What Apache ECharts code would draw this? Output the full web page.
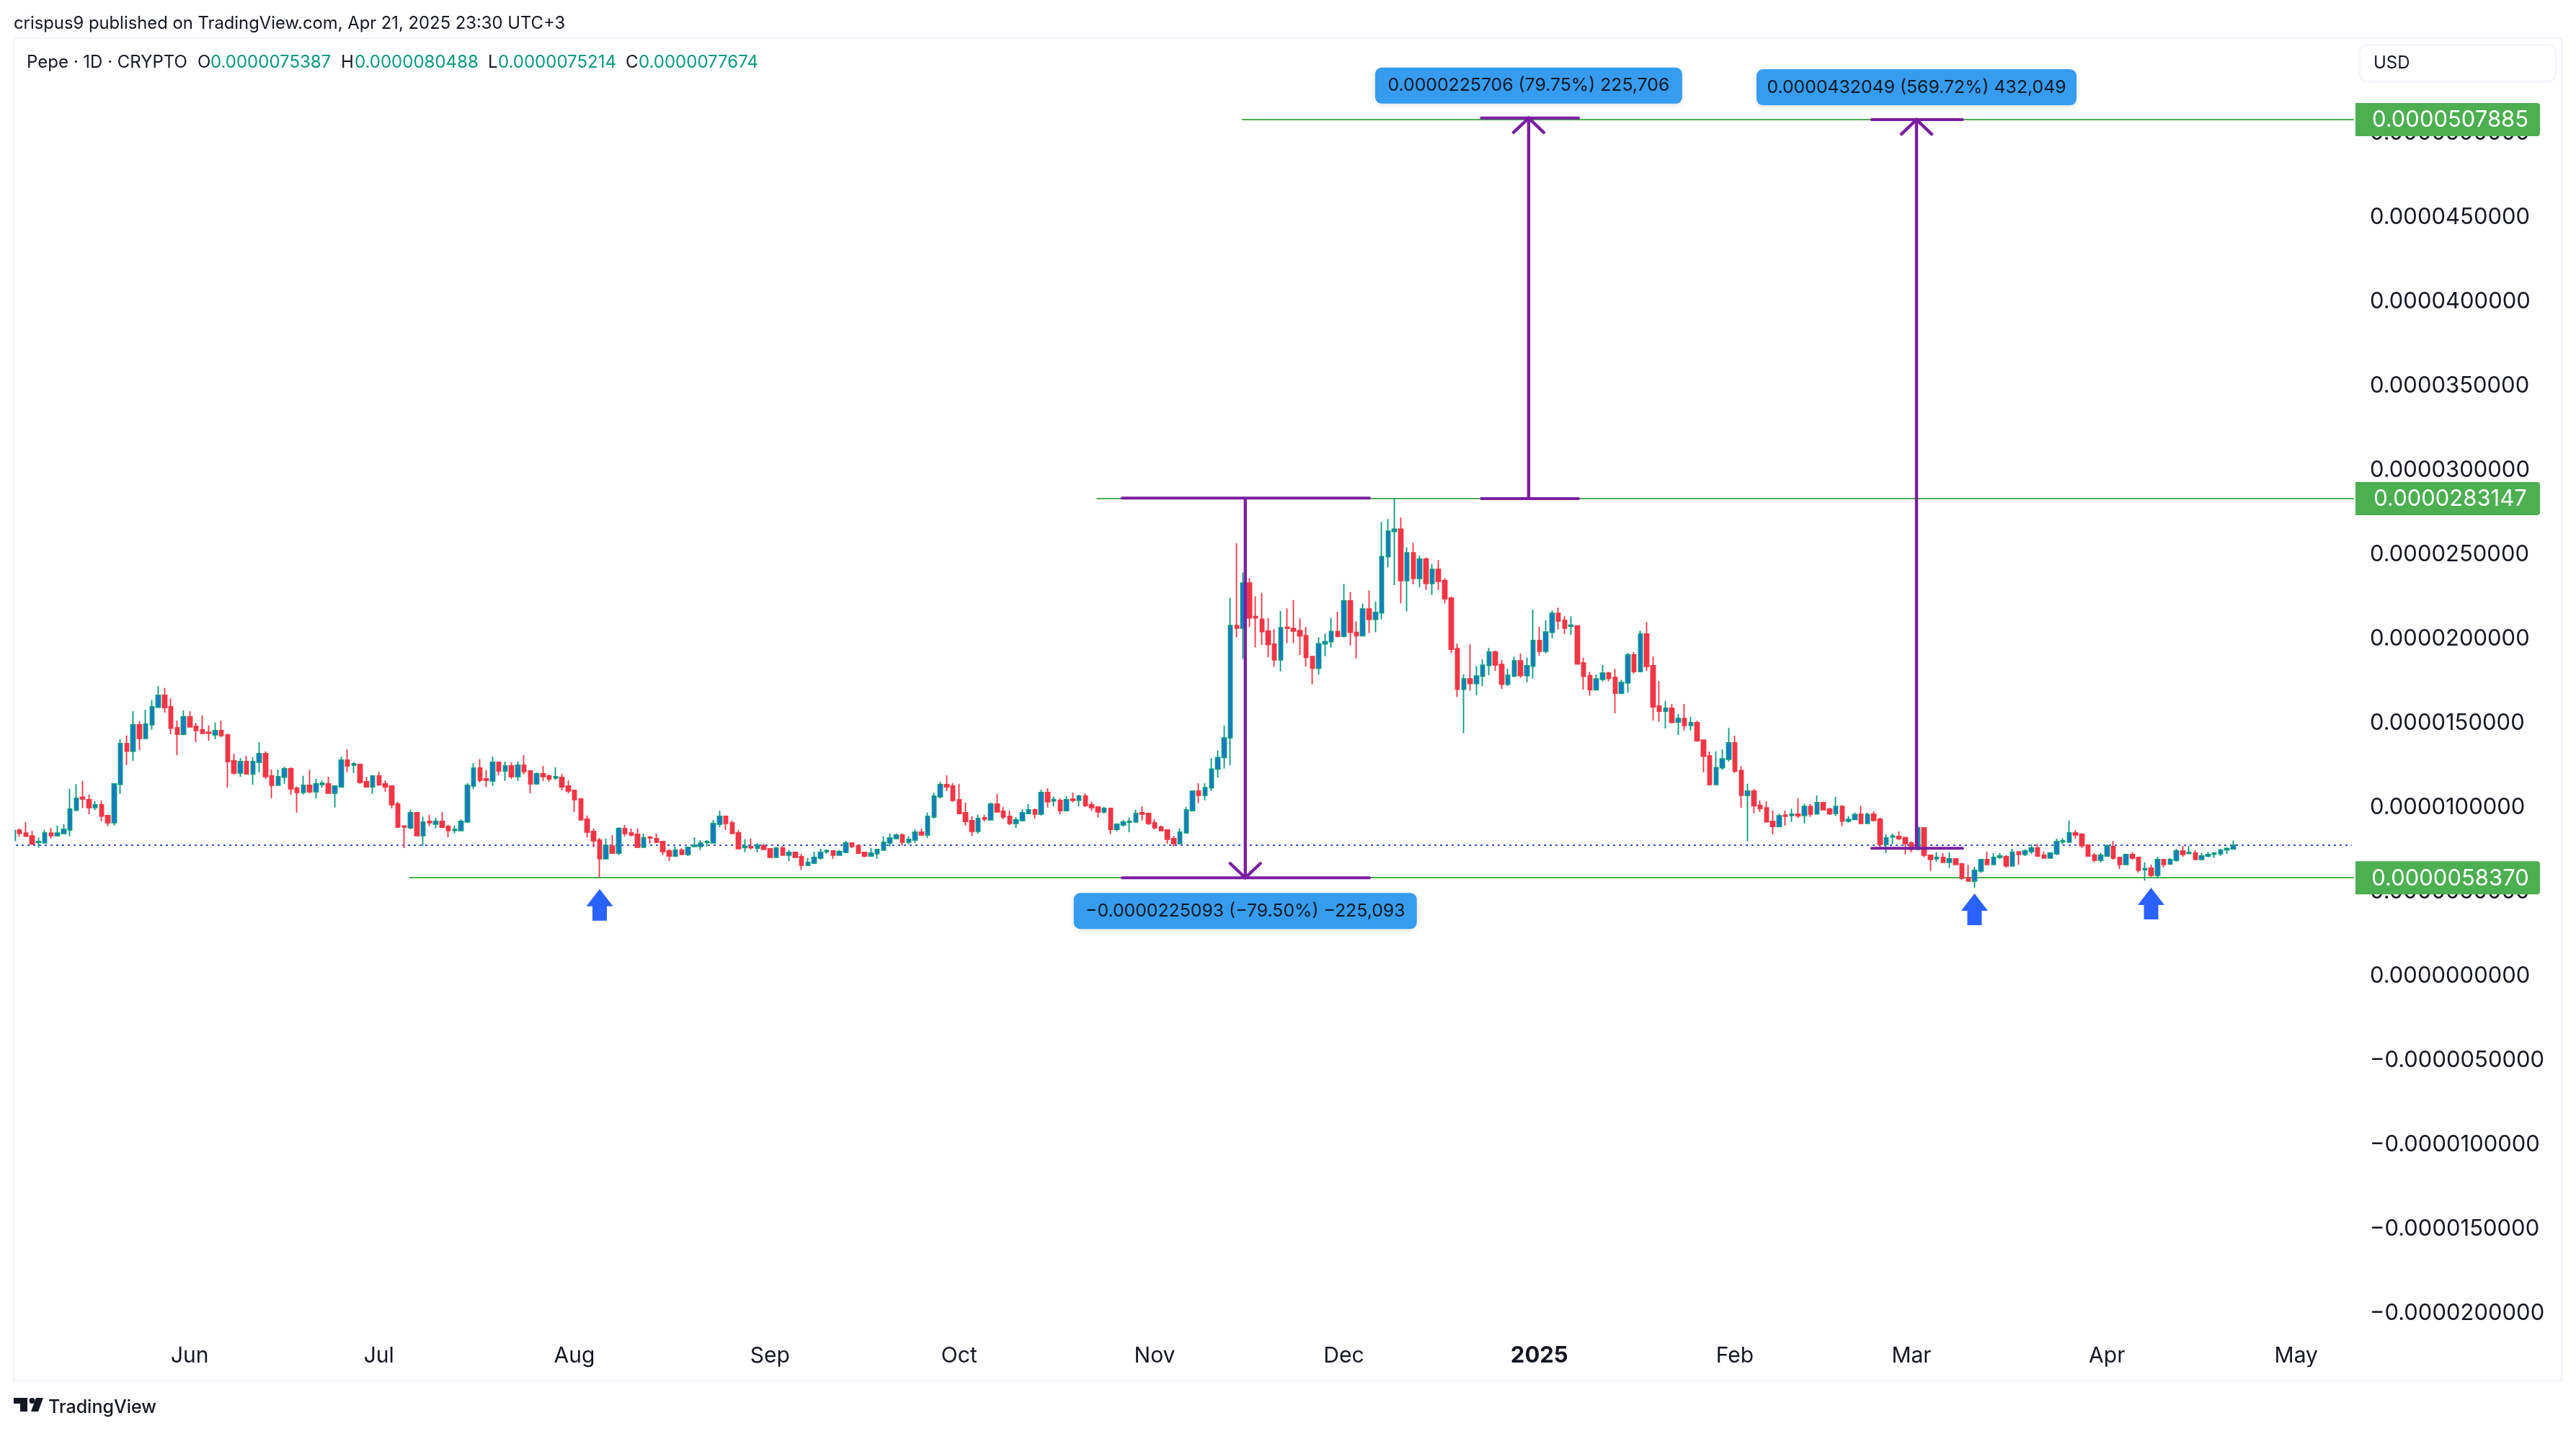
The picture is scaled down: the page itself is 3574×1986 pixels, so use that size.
<!DOCTYPE html>
<html><head><meta charset="utf-8">
<style>html,body{margin:0;padding:0;background:#fff}#c{width:3574px;height:1986px}</style>
<script src="https://cdn.jsdelivr.net/npm/echarts@6/dist/echarts.min.js"></script>
</head><body><div id="c"></div>
<script>
// All prices are in millionths of a USD. Each row: [open, high, low, close]
const may2024=[[8.05,8.70,8.05,8.65],[8.66,8.76,8.26,8.47],[8.49,9.14,8.30,8.30],[8.32,8.61,7.83,7.83],[7.93,8.23,7.62,7.99],[7.90,8.69,7.87,8.50],[8.49,8.80,8.16,8.33],[8.33,8.93,8.33,8.49],[8.46,9.01,8.46,8.71],[8.67,11.11,8.30,9.91],[9.84,11.39,9.84,10.55],[10.61,11.58,9.97,10.51],[10.47,10.76,9.61,10.00],[10.00,10.39,9.84,10.17],[10.17,10.42,9.18,9.50],[9.53,9.58,8.90,9.10],[9.10,11.41,8.93,11.41],[11.38,14.05,10.81,13.80],[13.80,14.27,12.52,13.34],[13.34,15.72,12.77,14.91],[14.91,15.12,13.41,14.10],[14.10,15.81,14.10,14.95],[14.91,16.37,14.62,15.98],[15.95,17.20,15.95,16.66],[16.66,17.09,15.63,15.93],[15.98,16.47,14.35,14.71],[14.74,15.16,13.11,14.35],[14.35,15.76,14.28,15.38]];
const jun2024=[[15.38,15.72,14.74,14.78],[14.82,15.02,13.88,14.57],[14.61,15.46,14.38,14.40],[14.47,14.88,13.97,14.41],[14.31,15.04,14.05,14.57],[14.57,15.16,14.18,14.27],[14.31,14.37,11.19,12.73],[12.77,13.20,11.96,12.05],[12.05,12.94,11.83,12.73],[12.73,13.07,12.00,12.00],[12.00,12.99,11.36,12.73],[12.69,13.88,12.09,13.20],[13.20,13.33,11.70,11.83],[11.88,12.26,10.55,11.32],[11.32,12.26,11.32,11.83],[11.80,12.43,11.41,12.30],[12.30,12.39,10.76,11.11],[11.15,11.25,9.70,10.89],[10.89,11.88,10.78,11.32],[11.32,12.22,10.85,10.94],[10.94,11.70,10.55,11.41],[11.36,11.60,11.18,11.45],[11.41,11.83,10.82,10.85],[10.85,11.28,10.00,11.28],[11.23,13.03,11.23,12.82],[12.82,13.46,12.09,12.47],[12.52,12.69,12.05,12.60],[12.56,12.60,11.41,11.49],[11.53,11.83,11.23,11.23],[11.23,11.88,10.81,11.88]];
const jul2024=[[11.88,12.13,11.28,11.35],[11.41,11.62,10.94,11.23],[11.28,11.32,9.95,10.17],[10.21,10.34,8.80,8.84],[8.91,8.91,7.60,8.84],[8.80,9.87,8.71,9.70],[9.70,9.70,8.33,8.33],[8.33,9.47,7.73,9.14],[9.18,9.57,8.89,9.10],[9.01,9.40,8.76,9.18],[9.18,9.74,8.80,8.83],[8.89,8.97,8.24,8.63],[8.64,8.93,8.46,8.71],[8.63,9.31,8.63,9.18],[9.14,11.45,9.10,11.32],[11.28,12.64,11.11,12.35],[12.35,12.86,11.49,11.62],[11.70,12.22,11.23,11.62],[11.58,13.03,11.28,12.69],[12.69,12.73,11.92,12.17],[12.17,12.73,11.58,12.47],[12.47,12.69,11.70,11.83],[11.83,12.73,11.58,12.52],[12.52,13.11,11.96,12.13],[12.17,12.17,10.85,11.41],[11.41,12.09,11.36,12.00],[12.00,12.47,11.58,11.83],[11.88,11.96,11.53,11.70],[11.75,12.39,11.66,11.83],[11.79,12.00,11.02,11.23],[11.28,11.62,10.85,10.98]];
const aug2024=[[11.02,11.02,9.74,10.47],[10.52,10.55,9.23,9.27],[9.31,9.53,8.24,8.54],[8.59,8.76,7.65,8.03],[8.07,8.20,5.85,6.96],[6.96,8.16,6.96,7.76],[7.72,8.37,7.26,7.30],[7.30,8.84,7.18,8.76],[8.76,8.97,8.29,8.46],[8.50,8.76,8.29,8.37],[8.42,8.76,7.65,7.65],[7.65,8.46,7.65,8.20],[8.24,8.33,7.87,8.20],[8.16,8.46,7.90,7.95],[7.99,8.03,7.18,7.39],[7.43,7.55,6.83,7.13],[7.13,7.69,7.09,7.48],[7.48,7.60,7.22,7.22],[7.22,7.69,7.13,7.65],[7.69,8.24,7.69,7.77],[7.69,8.07,7.48,7.90],[7.93,8.07,7.69,7.99],[7.90,9.27,7.90,9.06],[9.01,9.82,8.84,9.48],[9.48,9.53,8.67,9.06],[9.10,9.23,8.42,8.46],[8.50,8.67,7.52,7.56],[7.63,8.12,7.35,7.70],[7.69,8.16,7.52,7.62],[7.60,7.90,7.35,7.77],[7.73,7.86,7.48,7.52]];
const sep2024=[[7.56,7.60,7.05,7.05],[7.05,7.65,7.05,7.60],[7.60,7.73,7.18,7.18],[7.18,7.48,6.83,7.35],[7.35,7.39,7.01,7.05],[7.09,7.26,6.32,6.58],[6.58,7.01,6.58,6.75],[6.71,7.39,6.66,7.05],[7.01,7.56,6.92,7.35],[7.38,7.52,7.26,7.45],[7.43,7.48,6.96,7.18],[7.18,7.48,7.18,7.39],[7.35,8.03,7.30,7.90],[7.90,7.90,7.60,7.69],[7.73,7.82,7.26,7.30],[7.35,7.35,7.05,7.13],[7.13,7.60,7.09,7.30],[7.26,7.52,6.96,7.52],[7.48,8.29,7.48,7.95],[7.90,8.46,7.69,8.20],[8.16,8.46,8.12,8.37],[8.37,8.46,7.73,7.95],[7.95,8.29,7.82,8.12],[8.07,8.71,7.90,8.54],[8.54,8.76,8.33,8.37],[8.37,9.70,8.20,9.48],[9.44,10.89,9.35,10.68],[10.64,11.53,10.55,11.36],[11.36,11.92,10.98,11.23],[11.28,11.45,10.34,10.42]];
const oct2024=[[10.47,11.41,9.61,9.65],[9.70,10.30,8.93,9.18],[9.23,9.48,8.33,8.59],[8.59,9.57,8.46,9.35],[9.40,9.57,9.18,9.31],[9.27,10.30,9.23,10.21],[10.21,10.81,9.70,9.74],[9.78,10.04,9.31,9.44],[9.48,9.82,8.97,9.06],[9.06,9.44,8.80,9.27],[9.23,9.91,9.18,9.70],[9.65,10.21,9.65,9.87],[9.87,9.95,9.35,9.61],[9.61,11.06,9.53,10.89],[10.89,11.15,10.00,10.34],[10.39,10.64,10.08,10.48],[10.42,10.55,9.61,9.82],[9.82,10.68,9.82,10.47],[10.51,10.89,10.30,10.42],[10.44,10.76,10.08,10.68],[10.68,10.85,10.04,10.12],[10.17,10.34,9.82,10.00],[10.04,10.08,9.40,9.74],[9.74,10.04,9.65,9.95],[9.95,10.00,8.42,8.71],[8.71,9.06,8.59,9.01],[8.97,9.27,8.88,9.14],[9.13,9.40,8.54,9.18],[9.14,9.87,9.10,9.65],[9.70,10.08,9.23,9.61],[9.65,9.65,8.97,9.06]];
const nov2024=[[9.10,9.31,8.71,8.80],[8.84,8.93,8.59,8.63],[8.67,8.71,7.86,8.12],[8.16,8.33,7.69,7.86],[7.86,8.76,7.86,8.54],[8.50,10.04,8.50,9.87],[9.82,11.02,9.82,10.98],[10.98,11.44,10.25,10.72],[10.72,11.44,10.43,11.18],[11.17,12.94,10.98,12.28],[12.28,13.39,11.78,12.97],[12.97,14.87,12.31,14.13],[14.13,22.43,12.51,20.79],[20.79,25.67,20.09,20.64],[20.64,23.95,18.81,23.31],[23.31,23.60,20.70,21.25],[21.33,22.53,19.50,21.25],[21.17,22.73,19.65,20.43],[20.46,21.24,18.92,19.66],[19.69,20.59,18.34,18.76],[18.76,21.66,18.08,20.67],[20.70,21.81,19.75,20.62],[20.62,22.31,19.75,20.46],[20.50,21.23,19.05,20.18],[20.20,20.71,18.37,18.91],[18.96,18.96,17.31,18.26],[18.26,20.10,17.88,19.72],[19.71,20.32,18.97,19.84],[19.83,21.25,19.49,20.44],[20.44,21.61,20.10,20.15]];
const dec2024=[[20.15,23.26,20.09,22.26],[22.26,22.79,19.62,20.39],[20.39,21.05,18.85,20.19],[20.19,22.09,20.19,21.78],[21.78,22.88,20.35,21.16],[21.16,22.21,20.39,21.57],[21.54,26.94,21.16,24.88],[24.88,27.11,24.24,26.39],[26.37,28.33,23.19,26.51],[26.51,27.20,22.10,23.46],[23.46,25.44,21.63,25.11],[25.11,25.70,23.25,23.58],[23.58,24.94,23.06,24.73],[24.73,24.83,22.90,23.29],[23.29,24.45,22.61,24.13],[24.13,24.68,22.90,23.41],[23.46,23.60,22.10,22.38],[22.42,22.51,19.16,19.39],[19.43,19.72,16.55,17.01],[17.01,17.89,14.41,17.63],[17.63,19.68,16.93,17.36],[17.36,18.40,16.67,17.80],[17.78,18.79,17.20,18.44],[18.43,19.46,17.85,19.22],[19.22,19.31,18.10,18.46],[18.49,18.75,17.04,17.31],[17.31,18.24,17.20,17.85],[17.80,18.95,17.74,18.70],[18.70,19.13,17.69,17.83],[17.83,18.90,17.42,18.41],[18.38,21.74,17.65,19.91]];
const jan2025=[[19.91,20.72,19.01,19.27],[19.27,21.10,19.14,20.41],[20.39,21.69,20.04,21.52],[21.52,21.86,20.55,21.06],[21.10,21.35,20.29,20.64],[20.75,21.35,20.24,20.81],[20.77,20.82,18.46,18.52],[18.58,18.88,16.99,17.78],[17.82,18.05,16.63,16.98],[16.98,17.89,16.98,17.63],[17.60,18.46,17.48,17.97],[17.97,18.06,17.48,17.66],[17.72,18.23,15.59,16.78],[16.78,17.59,16.78,17.42],[17.39,19.18,16.83,19.05],[19.05,19.22,17.95,18.06],[18.06,20.49,18.06,20.29],[20.29,21.00,18.11,18.37],[18.41,18.95,15.16,15.97],[16.02,17.50,15.10,15.71],[15.71,16.32,14.69,15.89],[15.89,16.14,14.99,15.05],[15.07,15.56,14.31,15.28],[15.28,16.14,14.57,14.87],[14.87,15.37,14.57,15.04],[15.04,15.15,13.91,13.96],[14.00,14.00,12.08,13.04],[13.07,13.31,11.32,11.36],[11.36,13.33,11.36,12.37],[12.36,13.45,12.23,12.89],[12.86,14.72,12.74,13.84]];
const feb2025=[[13.84,14.26,12.05,12.17],[12.20,12.46,9.99,10.72],[10.72,11.41,8.01,10.98],[10.98,11.10,9.65,10.10],[10.13,10.42,9.73,9.94],[9.99,10.37,9.10,9.15],[9.18,9.82,8.41,8.88],[8.88,9.64,8.85,9.51],[9.56,9.82,8.92,9.48],[9.53,9.94,9.15,9.61],[9.61,10.56,9.38,9.51],[9.53,10.23,9.06,10.07],[10.07,10.22,9.45,9.61],[9.62,10.72,9.62,10.29],[10.29,10.34,9.84,9.87],[9.91,9.99,9.56,9.64],[9.65,10.63,9.50,10.07],[10.07,10.14,8.89,9.20],[9.20,9.50,9.11,9.30],[9.29,9.70,9.29,9.58],[9.61,10.11,9.03,9.06],[9.06,9.70,9.06,9.59],[9.61,9.78,9.18,9.24],[9.31,9.40,7.65,7.82],[7.82,8.42,7.30,8.20],[8.26,8.46,7.82,8.32],[8.29,8.59,8.07,8.16],[8.22,8.22,7.22,7.86]];
const mar2025=[[7.90,7.99,7.35,7.52],[7.52,8.93,7.52,8.80],[8.80,8.84,7.05,7.18],[7.18,7.18,6.24,6.92],[6.96,7.35,6.79,7.05],[7.05,7.30,6.75,6.75],[6.75,7.35,6.41,6.96],[6.96,7.00,6.62,6.62],[6.66,6.71,5.72,5.81],[5.84,6.62,5.60,5.64],[5.64,6.49,5.25,6.28],[6.24,6.96,6.11,6.92],[6.92,7.39,6.58,6.62],[6.62,7.30,6.62,7.05],[7.05,7.30,6.96,7.13],[7.09,7.18,6.45,6.54],[6.54,7.56,6.54,7.35],[7.38,7.39,6.62,7.22],[7.22,7.52,7.13,7.43],[7.39,7.82,7.26,7.60],[7.60,7.86,7.13,7.13],[7.18,7.39,7.01,7.01],[7.01,7.35,7.01,7.30],[7.26,8.16,7.18,7.99],[7.97,8.20,7.82,8.03],[7.95,9.23,7.95,8.50],[8.50,8.67,8.16,8.37],[8.42,8.50,7.60,7.73],[7.77,7.82,7.09,7.13],[7.18,7.30,6.75,6.88],[6.88,7.30,6.75,7.18]];
const apr2025=[[7.13,7.82,7.13,7.73],[7.69,8.03,6.92,7.01],[7.05,7.05,6.36,6.62],[6.62,7.26,6.58,7.22],[7.22,7.35,6.92,7.01],[7.05,7.05,6.15,6.28],[6.31,6.75,5.68,6.39],[6.41,6.62,5.90,5.98],[5.98,7.09,5.81,6.92],[6.92,6.96,6.45,6.62],[6.65,7.01,6.62,6.92],[6.88,7.56,6.79,7.43],[7.43,7.73,7.09,7.22],[7.28,7.73,7.22,7.35],[7.30,7.48,6.88,6.92],[6.92,7.30,6.92,7.13],[7.13,7.39,7.05,7.22],[7.23,7.30,7.01,7.30],[7.26,7.56,7.13,7.48],[7.50,7.65,7.26,7.57],[7.54,8.05,7.52,7.77]];

const firstDate='2024-05-04', dayCount=372;
const monthTicks={'2024-06-01':'Jun','2024-07-01':'Jul','2024-08-01':'Aug','2024-09-01':'Sep','2024-10-01':'Oct','2024-11-01':'Nov','2024-12-01':'Dec','2025-01-01':'{b|2025}','2025-02-01':'Feb','2025-03-01':'Mar','2025-04-01':'Apr','2025-05-01':'May'};
const lastClose=7.7674;
const greenLevels=[{price:5.837,from:62.8,label:'0.0000058370'},{price:28.3147,from:171.8,label:'0.0000283147'},{price:50.7885,from:194.8,label:'0.0000507885'}];
const measures=[
 {at:195.37,from:175.86,to:215.05,p1:28.3463,p2:5.837,text:'\u22120.0000225093 (\u221279.50%) \u2212225,093',boxW:476,side:1},
 {at:240.3,from:232.8,to:248.2,p1:28.3147,p2:50.8853,text:'0.0000225706 (79.75%) 225,706',boxW:426,side:-1},
 {at:301.8,from:294.7,to:309.1,p1:7.5836,p2:50.7885,text:'0.0000432049 (569.72%) 432,049',boxW:444,side:-1}
];
const blueArrows=[{at:93,price:5.17},{at:311,price:4.91},{at:339,price:5.25}];
const legendOHLC=[['O','0.0000075387',274,292],['H','0.0000080488',473,492],['L','0.0000075214',677,691],['C','0.0000077674',868,886]];

const rows=[].concat(may2024,jun2024,jul2024,aug2024,sep2024,oct2024,nov2024,dec2024,jan2025,feb2025,mar2025,apr2025);
const categories=[];{const d=new Date(firstDate+'T00:00:00Z');for(let i=0;i<dayCount;i++){categories.push(d.toISOString().slice(0,10));d.setUTCDate(d.getUTCDate()+1);}}
const candle=rows.map(r=>[r[0],r[3],r[2],r[1]]);

const FONT='Inter, "Liberation Sans", sans-serif', INK='#131722', PURPLE='#7b1fa2', GREEN='#4caf50', TEAL='#089981';
const chart=echarts.init(document.getElementById('c'),null,{renderer:'canvas',width:3574,height:1986});
const LAST=dayCount-1;
function line(a,b,c,w,dash,cap){return {type:'line',shape:{x1:a[0],y1:a[1],x2:b[0],y2:b[1]},style:{stroke:c,lineWidth:w,lineDash:dash||null,lineCap:cap||'butt'}};}
// The category scale rounds to whole bars, so fractional bar positions are interpolated between neighbours.
function at(api,f,p){const i=Math.floor(f),a=api.coord([i,p]),b=api.coord([i+1,p]);return [a[0]+(b[0]-a[0])*(f-i),a[1]];}

const overlay=(params,api)=>{
 const k=params.dataIndex, kids=[];
 if(k===0){ const y=Math.round(api.coord([0,lastClose])[1]); kids.push(line([14,y],api.coord([LAST,lastClose]).map((v,i)=>i?y:3263),'#3a4fc4',2,[3,5])); }
 const g=greenLevels[k], s=at(api,g.from,g.price);
 kids.push(line([s[0],Math.round(s[1])],[3266,Math.round(s[1])],GREEN,2));
 return {type:'group',children:kids};
};
const measureItem=(params,api)=>{
 const m=measures[params.dataIndex], kids=[];
 const a=at(api,m.at,m.p1), b=at(api,m.at,m.p2);
 kids.push(line(at(api,m.from,m.p1),at(api,m.to,m.p1),PURPLE,4,null,'round'));
 kids.push(line(at(api,m.from,m.p2),at(api,m.to,m.p2),PURPLE,4,null,'round'));
 kids.push(line(a,b,PURPLE,4.4));
 const dir=m.side; // head points toward p2; +1 = down, -1 = up
 kids.push({type:'polyline',shape:{points:[[b[0]-21,b[1]-20*dir],[b[0],b[1]],[b[0]+21,b[1]-20*dir]]},style:{stroke:PURPLE,lineWidth:4.4,fill:null,lineCap:'round'}});
 const cy=b[1]+(dir>0?46:-45), cx=a[0];
 kids.push({type:'rect',shape:{x:cx-m.boxW/2,y:cy-25,width:m.boxW,height:50,r:9},style:{fill:'#369cf0',shadowColor:'rgba(0,0,0,0.12)',shadowBlur:6,shadowOffsetY:2}});
 kids.push({type:'text',style:{x:cx,y:cy,text:m.text,fill:INK,font:'24.8px '+FONT,align:'center',verticalAlign:'middle'}});
 return {type:'group',children:kids};
};
const arrowItem=(params,api)=>{
 const t=api.coord([blueArrows[params.dataIndex].at,blueArrows[params.dataIndex].price]);
 const x=t[0],y=t[1];
 return {type:'polygon',shape:{points:[[x,y],[x+18.5,y+24],[x+10,y+24],[x+10,y+44],[x-10,y+44],[x-10,y+24],[x-18.5,y+24]]},style:{fill:'#2962ff'}};
};
const tagItem=(params,api)=>{
 const g=greenLevels[params.dataIndex], y=api.coord([LAST,g.price])[1];
 return {type:'group',children:[
  {type:'rect',shape:{x:3268,y:y-23,width:256,height:46,r:[0,4,4,0]},style:{fill:GREEN}},
  {type:'text',style:{x:3399.5,y:y+1,text:g.label,fill:'#fff',font:'31px '+FONT,align:'center',verticalAlign:'middle'}}
 ]};
};

const gfx=[
 {type:'rect',z:50,shape:{x:0,y:50,width:19,height:1870},style:{fill:'#fff'}},
 {type:'rect',z:51,shape:{x:19.5,y:53,width:3534.5,height:1863},style:{fill:null,stroke:'#f0f3fa',lineWidth:2}},
 {type:'text',z:52,style:{x:19,y:33,text:'crispus9 published on TradingView.com, Apr 21, 2025 23:30 UTC+3',fill:INK,font:'23.8px '+FONT,verticalAlign:'middle'}},
 {type:'text',z:52,style:{x:37,y:87,text:'Pepe \u00b7 1D \u00b7 CRYPTO',fill:INK,font:'24px '+FONT,verticalAlign:'middle'}},
 {type:'rect',z:52,shape:{x:3274,y:62,width:272,height:51,r:10},style:{fill:'#fff',stroke:'#f0f3fa',lineWidth:2}},
 {type:'text',z:53,style:{x:3293,y:88,text:'USD',fill:INK,font:'24px '+FONT,verticalAlign:'middle'}},
 {type:'polygon',z:52,shape:{points:[[19,1940],[38,1940],[38,1959],[28,1959],[28,1948],[19,1948]]},style:{fill:INK}},
 {type:'circle',z:52,shape:{cx:44.5,cy:1944,r:4},style:{fill:INK}},
 {type:'polygon',z:52,shape:{points:[[50,1940],[60,1940],[53,1959],[43,1959]]},style:{fill:INK}},
 {type:'text',z:52,style:{x:67,y:1953,text:'TradingView',fill:INK,font:'500 25px '+FONT,verticalAlign:'middle'}}
];
legendOHLC.forEach(l=>{
 gfx.push({type:'text',z:52,style:{x:l[2],y:87,text:l[0],fill:INK,font:'24px '+FONT,verticalAlign:'middle'}});
 gfx.push({type:'text',z:52,style:{x:l[3],y:87,text:l[1],fill:TEAL,font:'24px '+FONT,verticalAlign:'middle'}});
});

chart.setOption({
 animation:false,backgroundColor:'#fff',
 grid:{left:13.875,width:8.75*dayCount,top:67.5,height:1755.5,containLabel:false},
 xAxis:{type:'category',data:categories,boundaryGap:true,offset:41,
  axisLine:{show:false},axisTick:{show:false},splitLine:{show:false},
  axisLabel:{show:true,margin:0,hideOverlap:false,showMinLabel:true,showMaxLabel:true,
   interval:(i,v)=>v in monthTicks,formatter:v=>monthTicks[v]||'',
   color:INK,fontFamily:'Inter',fontSize:30,verticalAlign:'top',lineHeight:36,
   rich:{b:{fontWeight:'bold',fontSize:31,fontFamily:'Inter',color:INK}}}},
 yAxis:{type:'value',position:'right',min:-20,max:55,interval:5,scale:false,
  axisLine:{show:false},axisTick:{show:false},splitLine:{show:false},
  axisLabel:{margin:19,align:'left',color:INK,fontFamily:'Inter',fontSize:31,padding:[10,0,0,0],
   formatter:v=>{if(v>50)return '';const s=(Math.abs(v)*1e-6).toFixed(10);return v<0?'\u2212'+s:s;}}},
 graphic:{elements:gfx},
 series:[
  {type:'custom',z:1,silent:true,clip:false,data:greenLevels.map((g,i)=>[i,g.price]),encode:{x:0,y:1},renderItem:overlay},
  {type:'candlestick',z:3,data:candle,barWidth:6,large:false,progressive:0,silent:true,
   itemStyle:{color:'#1976d2',color0:'#f23645',borderColor:TEAL,borderColor0:'#f23645',borderWidth:1.8}},
  {type:'custom',z:5,silent:true,clip:false,data:measures.map((m,i)=>[i,m.p1]),encode:{x:0,y:1},renderItem:measureItem},
  {type:'custom',z:5,silent:true,clip:false,data:blueArrows.map((a,i)=>[i,a.price]),encode:{x:0,y:1},renderItem:arrowItem},
  {type:'custom',z:8,silent:true,clip:false,data:greenLevels.map((g,i)=>[i,g.price]),encode:{x:0,y:1},renderItem:tagItem}
 ]
});
</script></body></html>
